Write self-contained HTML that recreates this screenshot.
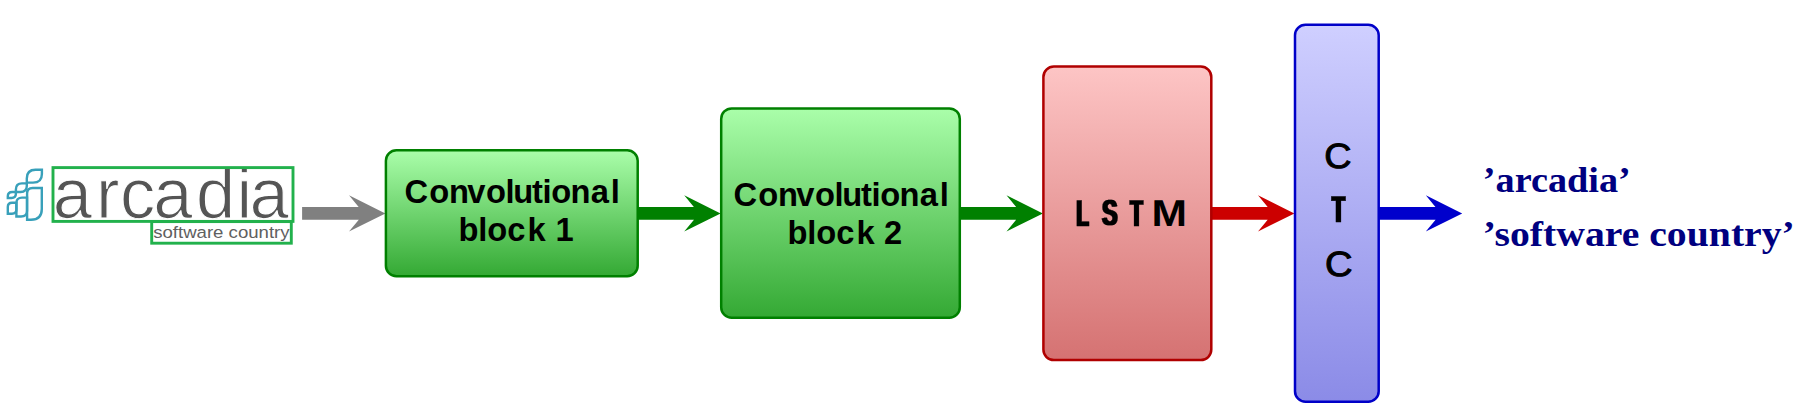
<!DOCTYPE html>
<html lang="en">
<head>
<meta charset="utf-8">
<title>CRNN pipeline</title>
<style>
html,body{margin:0;padding:0;background:#fff;}
body{width:1801px;height:415px;overflow:hidden;position:relative;}
svg{position:absolute;left:0;top:0;display:block;}
.sans{font-family:"Liberation Sans",sans-serif;}
.serif{font-family:"Liberation Serif",serif;}
.b{font-weight:bold;}
</style>
</head>
<body>
<svg width="1801" height="415" viewBox="0 0 1801 415">
<defs>
<linearGradient id="gG" x1="0" y1="0" x2="0" y2="1">
<stop offset="0" stop-color="#aafeaa"/><stop offset="1" stop-color="#34a934"/>
</linearGradient>
<linearGradient id="gR" x1="0" y1="0" x2="0" y2="1">
<stop offset="0" stop-color="#fdc5c5"/><stop offset="1" stop-color="#d57272"/>
</linearGradient>
<linearGradient id="gB" x1="0" y1="0" x2="0" y2="1">
<stop offset="0" stop-color="#cfcfff"/><stop offset="1" stop-color="#8b8be7"/>
</linearGradient>
<filter id="fx" x="-30%" y="-30%" width="160%" height="160%"><feMorphology operator="dilate" radius="1 0"/></filter>
</defs>

<!-- logo icon -->
<g id="icon" fill="none" stroke="#38a0ba" stroke-width="2.4" stroke-linejoin="miter">
<path d="M27.1 219.7 V193.6 Q27.1 188 32.6 188 H41.8 V209 Q41.8 219.7 31 219.7 Z"/>
<path d="M26.8 182.6 V178.5 Q26.8 169.8 35.5 169.8 H41.9 V174 Q41.9 182.6 33 182.6 Z"/>
<path d="M16.4 216.5 V203 Q16.4 197.6 22 197.6 H27 V211 Q27 216.5 21 216.5 Z"/>
<path d="M15.9 192 V189.5 Q15.9 183.4 22 183.4 H26.8 V186 Q26.8 192 20.5 192 Z"/>
<path d="M7.8 213.7 V207 Q7.8 202.7 12 202.7 H16.4 V209.5 Q16.4 213.7 12 213.7 Z"/>
<path d="M7.8 198 V196.3 Q7.8 192 12.3 192 H15.9 V193.8 Q15.9 198 11.5 198 Z"/>
</g>

<!-- detected boxes -->
<text class="sans" x="52.7 96.1 119.9 153.2 196.0 236.5 249.6" y="218.4" font-size="70.5" fill="#555" stroke="#fff" stroke-width="1.1" paint-order="fill stroke" text-rendering="geometricPrecision">arcadia</text>
<text class="sans" x="153.2" y="237.8" font-size="17.2" fill="#606060" textLength="136.4" lengthAdjust="spacingAndGlyphs">software country</text>

<rect x="53" y="167.6" width="240" height="53.8" fill="none" stroke="#22b14c" stroke-width="2.9"/>
<rect x="151.7" y="221.6" width="139.6" height="21.6" fill="none" stroke="#22b14c" stroke-width="2.9"/>

<!-- arrows -->
<g id="arrows">
<path fill="#808080" d="M302.1 207 H370.0 V219.8 H302.1 Z M349.0 195.2 L385.4 213.4 L349.0 231.5 L364.0 213.4 Z"/>
<path fill="#008000" d="M637 207 H705.2 V219.8 H637 Z M684.2 195.2 L720.6 213.4 L684.2 231.5 L699.2 213.4 Z"/>
<path fill="#008000" d="M960 207 H1027.5 V219.8 H960 Z M1006.5 195.2 L1042.9 213.4 L1006.5 231.5 L1021.5 213.4 Z"/>
<path fill="#cc0000" d="M1211 207 H1279.0 V219.8 H1211 Z M1258.0 195.2 L1294.4 213.4 L1258.0 231.5 L1273.0 213.4 Z"/>
<path fill="#0000cc" d="M1379 207 H1446.8 V219.8 H1379 Z M1425.8 195.2 L1462.2 213.4 L1425.8 231.5 L1440.8 213.4 Z"/>
</g>

<!-- blocks -->
<rect x="385.9" y="150.2" width="251.8" height="126" rx="10.5" ry="10.5" fill="url(#gG)" stroke="#008000" stroke-width="2.5"/>
<rect x="721.2" y="108.4" width="238.6" height="209.3" rx="10.5" ry="10.5" fill="url(#gG)" stroke="#008000" stroke-width="2.5"/>
<rect x="1043.4" y="66.6" width="167.9" height="293.5" rx="10.5" ry="10.5" fill="url(#gR)" stroke="#b00000" stroke-width="2.5"/>
<rect x="1295" y="24.7" width="83.7" height="377" rx="10.5" ry="10.5" fill="url(#gB)" stroke="#0000c8" stroke-width="2.5"/>

<!-- labels -->
<g class="sans b" fill="#000" font-size="32.7">
<text x="404.6 429.3 449.0 467.3 485.9 505.5 513.2 531.9 542.5 551.2 570.4 590.8 610.8" y="202.8">Convolutional</text>
<text x="458.4 478.3 487.2 507.2 527.4 548.0 555.4" y="240.7">block 1</text>
<text x="733.6 758.3 778.0 796.3 814.9 834.5 842.2 860.9 871.5 880.2 899.4 919.8 939.8" y="205.8">Convolutional</text>
<text x="787.4 807.3 816.2 836.2 856.4 877.0 883.9" y="243.7">block 2</text>
</g>
<g id="lstm" class="sans b" fill="#000" text-rendering="geometricPrecision">
<g filter="url(#fx)"><text transform="translate(1076.59 225.73) scale(0.538 1)" font-size="37.14" stroke="#000" stroke-width="0.5">L</text></g>
<g filter="url(#fx)"><text transform="translate(1101.92 225.45) scale(0.649 1)" font-size="36.00" stroke="#000" stroke-width="0.4">S</text></g>
<g filter="url(#fx)"><text transform="translate(1130.14 225.73) scale(0.550 1)" font-size="37.14" stroke="#000" stroke-width="0.5">T</text></g>
<text transform="translate(1151.56 226.18) scale(1.139 1)" font-size="37.41">M</text>
</g>
<g id="ctc" class="sans b" fill="#000" text-rendering="geometricPrecision">
<text transform="translate(1324.13 167.84) scale(1.076 1)" font-size="35.03" font-weight="normal" stroke="#000" stroke-width="1.0">C</text>
<g filter="url(#fx)"><text transform="translate(1332.03 222.40) scale(0.570 1)" font-size="37.04" stroke="#000" stroke-width="0.5">T</text></g>
<text transform="translate(1324.98 275.83) scale(1.089 1)" font-size="35.02" font-weight="normal" stroke="#000" stroke-width="1.0">C</text>
</g>
<g class="serif b" fill="#000080" font-size="36">
<text x="1482.8" y="191.9" textLength="148" lengthAdjust="spacingAndGlyphs">’arcadia’</text>
<text x="1482.8" y="246.3" textLength="312" lengthAdjust="spacingAndGlyphs">’software country’</text>
</g>
</svg>
</body>
</html>
